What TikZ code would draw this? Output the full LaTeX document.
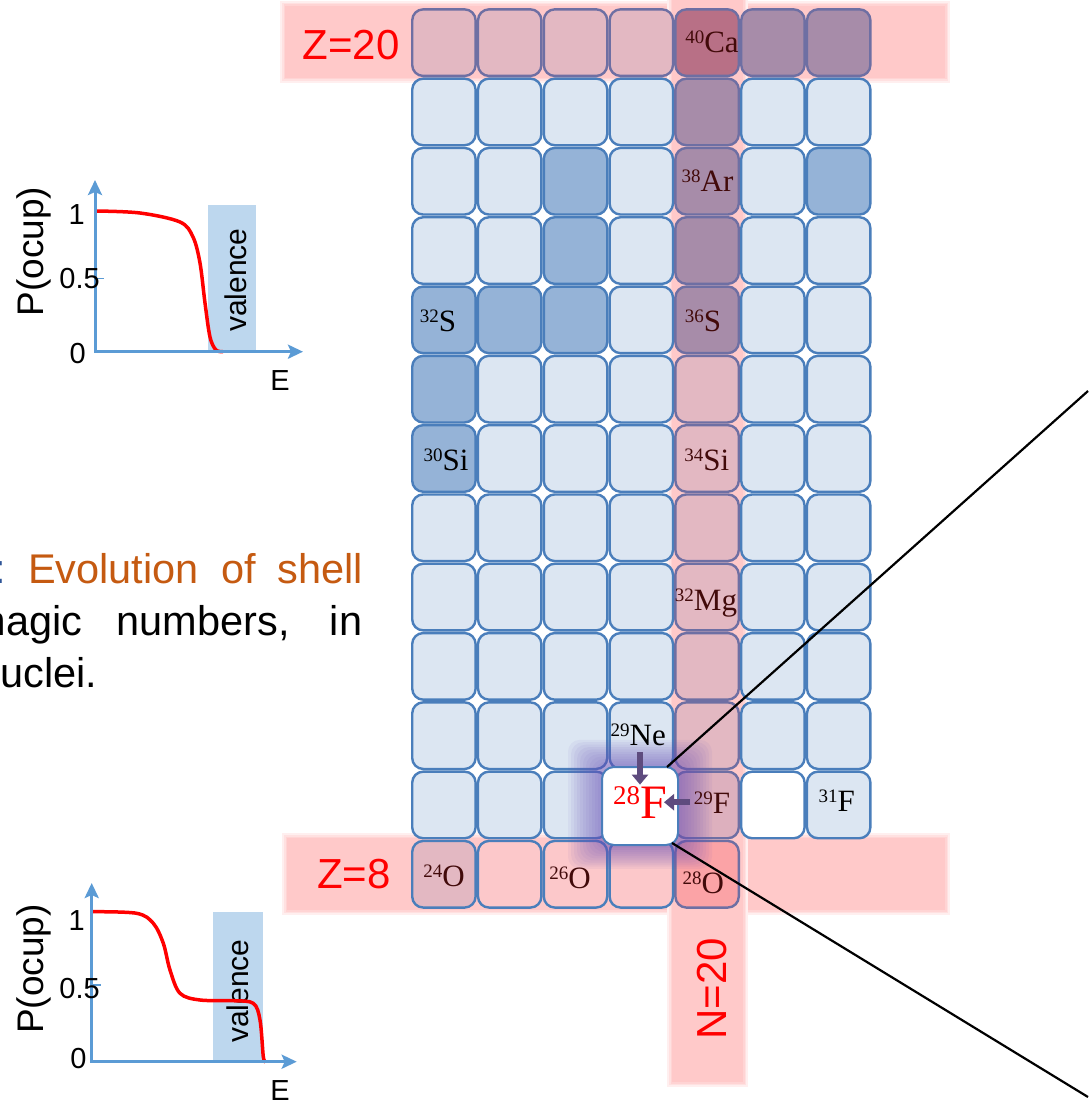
\documentclass[tikz,border=0pt]{standalone}
\usepackage{fontspec}
\setmainfont{Liberation Sans}
\newfontfamily\serfont{Liberation Serif}
\usetikzlibrary{arrows.meta,calc}
\definecolor{lb}{HTML}{DCE6F2}
\definecolor{db}{HTML}{95B3D7}
\definecolor{pk}{HTML}{E3B8C2}
\definecolor{pu}{HTML}{A78CA9}
\definecolor{cac}{HTML}{B87086}
\definecolor{opk}{HTML}{FCC8CA}
\definecolor{o28}{HTML}{FBA3A6}
\definecolor{f29}{HTML}{DDB0BE}
\definecolor{bdb}{HTML}{4A7EBB}
\definecolor{bdp}{HTML}{6E6FA3}
\definecolor{band}{HTML}{FFC9C9}
\definecolor{axisb}{HTML}{5B9BD5}
\definecolor{valb}{HTML}{BDD7EE}
\definecolor{orng}{HTML}{C55A11}
\definecolor{lblue}{HTML}{2F5597}
\definecolor{maroon}{HTML}{420A0A}
\definecolor{arrp}{HTML}{5E4B7E}
\definecolor{glowc}{HTML}{6A50B8}
\newcommand\fsz[1]{\fontsize{#1}{#1}\selectfont}
\newcommand\iso[2]{\raisebox{9pt}{\fsz{19}#1}#2}
\newcommand\cellat[3]{\node[cellbox,#3] (c#1r#2) at ({411+65.8*(#1-1)+32.9},{8+69.3*#2+34.65}) {};}
\newcommand\cellrow[8]{\cellat{1}{#1}{#2}\cellat{2}{#1}{#3}\cellat{3}{#1}{#4}\cellat{4}{#1}{#5}\cellat{5}{#1}{#6}\cellat{6}{#1}{#7}\cellat{7}{#1}{#8}}
\newcommand\softband[4]{%
  \fill[band!30] ({#1-5},{#2-5}) rectangle ({#3+5},{#4+5});
  \fill[band!55] ({#1-3},{#2-3}) rectangle ({#3+3},{#4+3});
  \fill[band!80] ({#1-1.5},{#2-1.5}) rectangle ({#3+1.5},{#4+1.5});
  \fill[band] (#1,#2) rectangle (#3,#4);}
\tikzset{
  cellbox/.style={rectangle, rounded corners=11pt, minimum width=63.4pt, minimum height=66.6pt, line width=2.4pt, inner sep=0pt},
  sLB/.style={fill=lb, draw=bdb},
  sDB/.style={fill=db, draw=bdb},
  sPK/.style={fill=pk, draw=bdp},
  sPU/.style={fill=pu, draw=bdp},
  sCA/.style={fill=cac, draw=bdp},
  sWH/.style={fill=white, draw=bdb},
  sOP/.style={fill=opk, draw=bdb},
  sOM/.style={fill=pk, draw=bdb},
  sO28/.style={fill=o28, draw=bdp},
  sF29/.style={fill=f29, draw=bdp},
  lab/.style={font=\serfont\fsz{31}, inner sep=0pt, anchor=base},
  gtxt/.style={font=\fsz{29}, inner sep=0pt},
  ptxt/.style={font=\fsz{37}, inner sep=0pt},
  vtxt/.style={font=\fsz{30}, inner sep=0pt},
  btxt/.style={font=\fsz{42}, text=red, inner sep=0pt},
  partxt/.style={font=\fsz{41.5}, inner sep=0pt, anchor=base west},
  axisline/.style={draw=axisb, line width=3pt, {Stealth[length=15pt,width=14pt,inset=3pt]}-{Stealth[length=15pt,width=14pt,inset=3pt]}},
  redc/.style={draw=red, line width=3.5pt},
  parr/.style={draw=arrp, line width=6.5pt, -{Triangle[length=10pt,width=16pt]}},
  blk/.style={draw=black, line width=2.2pt},
}
\begin{document}
\begin{tikzpicture}[x=1pt, y=-1pt]
\useasboundingbox (0,0) rectangle (1088,1107);
\fill[white] (0,0) rectangle (1088,1107);

% ---------- graph 1 ----------
\fill[valb] (208,205) rectangle (256,351.7);
\node[vtxt, rotate=90, anchor=base] (g1v) at (246.7,280) {valence};
\draw[redc] plot[smooth, tension=0.55] coordinates {(95,211) (140,213) (180,222) (193,237) (200,263) (205,303) (210,337) (216,350) (223,351.5)};
\coordinate (g1o) at (95,351.7);
\coordinate (g1y) at (95,180);
\coordinate (g1x) at (303,351.7);
\draw[axisline] (g1y) -- (g1o) -- (g1x);
\draw[draw=axisb, line width=1.5pt] (g1o |- 0,278.3) -- ++(9,0);
\node[gtxt, anchor=base east] (g1one) at (85,225) {1};
\node[gtxt, anchor=base east] (g1half) at (100,288.3) {0.5};
\node[gtxt, anchor=base east] (g1zero) at (86,363.3) {0};
\node[gtxt, anchor=base] (g1E) at (280,390) {E};
\node[ptxt, rotate=90, anchor=base] (g1P) at (43.3,251.7) {P(ocup)};

% ---------- graph 2 ----------
\fill[valb] (213,911.7) rectangle (263,1061.7);
\node[vtxt, rotate=90, anchor=base] (g2v) at (248.3,991) {valence};
\draw[redc] plot[smooth, tension=0.55] coordinates {(93,911.7) (136.7,913.3) (153.3,923.3) (163.3,943.3) (170,970) (180,993.3) (200,1000) (233.3,1000.7) (253.3,1003.3) (260,1020) (263.3,1056.7) (265,1060)};
\coordinate (g2o) at (91.7,1061.7);
\coordinate (g2y) at (91.7,883);
\coordinate (g2x) at (296.7,1061.7);
\draw[axisline] (g2y) -- (g2o) -- (g2x);
\draw[draw=axisb, line width=1.5pt] (g2o |- 0,985) -- ++(9,0);
\node[gtxt, anchor=base east] (g2one) at (85,930) {1};
\node[gtxt, anchor=base east] (g2half) at (100,998.3) {0.5};
\node[gtxt, anchor=base east] (g2zero) at (86.7,1068.3) {0};
\node[gtxt, anchor=base] (g2E) at (280,1100) {E};
\node[ptxt, rotate=90, anchor=base] (g2P) at (43.3,969) {P(ocup)};

% ---------- paragraph ----------
\node[partxt, text=lblue] (pcolon) at (-6,583) {:};
\node[partxt, text=orng] (pl1) at (28,583) {\makebox[335pt][s]{Evolution of shell}};
\node[partxt] (pl2) at (-28.7,635) {\makebox[390.7pt][s]{magic numbers, in}};
\node[partxt] (pl3) at (-23,687) {nuclei.};

% ---------- bands ----------
\softband{285}{6}{945}{78}
\softband{287}{838}{945}{910}
\softband{672}{-10}{743}{1082}
\node[btxt, anchor=base] (z20) at (351,60) {Z=20};
\node[btxt, anchor=base] (z8) at (354,888) {Z=8};
\node[btxt, rotate=90, anchor=base] (n20) at (726.7,989) {N=20};

% ---------- cells ----------
\cellrow{0}{sPK}{sPK}{sPK}{sPK}{sCA}{sPU}{sPU}
\cellrow{1}{sLB}{sLB}{sLB}{sLB}{sPU}{sLB}{sLB}
\cellrow{2}{sLB}{sLB}{sDB}{sLB}{sPU}{sLB}{sDB}
\cellrow{3}{sLB}{sLB}{sDB}{sLB}{sPU}{sLB}{sLB}
\cellrow{4}{sDB}{sDB}{sDB}{sLB}{sPU}{sLB}{sLB}
\cellrow{5}{sDB}{sLB}{sLB}{sLB}{sPK}{sLB}{sLB}
\cellrow{6}{sDB}{sLB}{sLB}{sLB}{sPK}{sLB}{sLB}
\cellrow{7}{sLB}{sLB}{sLB}{sLB}{sPK}{sLB}{sLB}
\cellrow{8}{sLB}{sLB}{sLB}{sLB}{sPK}{sLB}{sLB}
\cellrow{9}{sLB}{sLB}{sLB}{sLB}{sPK}{sLB}{sLB}
\cellrow{10}{sLB}{sLB}{sLB}{sLB}{sPK}{sLB}{sLB}
\cellat{1}{11}{sLB}\cellat{2}{11}{sLB}\cellat{3}{11}{sLB}\cellat{5}{11}{sF29}\cellat{6}{11}{sWH}\cellat{7}{11}{sLB}
\cellat{1}{12}{sOM}\cellat{2}{12}{sOP}\cellat{3}{12}{sOP}\cellat{4}{12}{sOP}\cellat{5}{12}{sO28}

% ---------- glow around 28F ----------
\foreach \e in {34,31,...,4}{
  \fill[glowc, opacity=0.065, rounded corners=12pt] ({602-\e},{767-0.8*\e}) rectangle ({678+\e},{845+0.7*\e});
}
\node[cellbox, fill=white, draw=bdb, line width=2pt, minimum width=76pt, minimum height=78pt, rounded corners=12pt] (f28) at (640,806) {};

% ---------- labels ----------
\node[lab, text=maroon] (lCa) at (712,53) {\iso{40}{Ca}};
\node[lab, text=maroon] (lAr) at (707.5,191.7) {\iso{38}{Ar}};
\node[lab] (lS32) at (438,331.7) {\iso{32}{S}};
\node[lab, text=maroon] (lS36) at (703,331.7) {\iso{36}{S}};
\node[lab] (lSi30) at (446,470.7) {\iso{30}{Si}};
\node[lab, text=maroon] (lSi34) at (706.7,470.7) {\iso{34}{Si}};
\node[lab, text=maroon] (lMg) at (706,610) {\iso{32}{Mg}};
\node[lab] (lNe) at (638.3,745) {\iso{29}{Ne}};
\node[lab, text=red] (lF28) at (640,818.3) {\raisebox{13.5pt}{\fsz{27}28}\fsz{48}F};
\node[lab, text=maroon] (lF29) at (712,813) {\iso{29}{F}};
\node[lab] (lF31) at (836.7,811.7) {\iso{31}{F}};
\node[lab, text=maroon] (lO24) at (444,886.7) {\iso{24}{O}};
\node[lab, text=maroon] (lO26) at (570,888) {\iso{26}{O}};
\node[lab, text=maroon] (lO28) at (703.3,893) {\iso{28}{O}};

% ---------- arrows ----------
\draw[parr] ($(lNe.south)+(1.7,6.7)$) -- ($(lNe.south |- lF28.north)+(1.7,-2)$);
\draw[parr] ($(lF29.west)+(-4,0)$) -- ($(lF28.east |- lF29.west)+(-3,0)$);

% ---------- zoom lines ----------
\coordinate (e1) at (1088,391);
\coordinate (e2) at (1088,1097);
\draw[blk] ($(f28.north east)+(-12,1)$) -- (e1);
\draw[blk] ($(f28.south east)+(-7,-3)$) -- (e2);
\end{tikzpicture}
\end{document}
